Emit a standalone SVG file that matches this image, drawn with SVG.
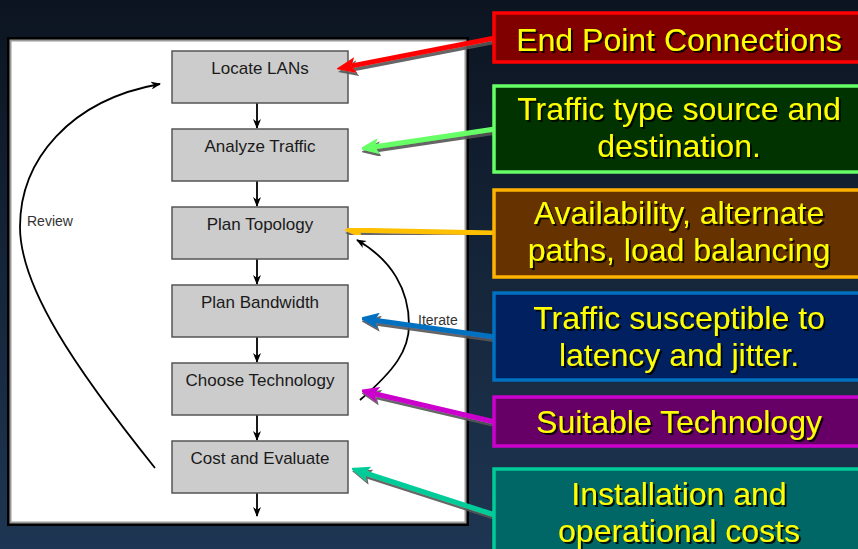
<svg xmlns="http://www.w3.org/2000/svg" width="858" height="549" viewBox="0 0 858 549">
<defs>
<linearGradient id="bg" x1="0" y1="0" x2="0" y2="1">
<stop offset="0" stop-color="#0c1420"/>
<stop offset="1" stop-color="#1e3653"/>
</linearGradient>
<filter id="ts" x="-5%" y="-20%" width="110%" height="140%">
<feDropShadow dx="2" dy="2" stdDeviation="0.6" flood-color="#000" flood-opacity="0.85"/>
</filter>
<filter id="as" x="-10%" y="-50%" width="120%" height="200%">
<feDropShadow dx="2" dy="3" stdDeviation="0.5" flood-color="#555" flood-opacity="0.9"/>
</filter>
<marker id="mk" viewBox="0 0 10 8" refX="9" refY="4" markerWidth="10" markerHeight="8" markerUnits="userSpaceOnUse" orient="auto">
<path d="M0,0 L10,4 L0,8 L3,4 z" fill="#000"/>
</marker>
<marker id="mRed" viewBox="0 0 20 16" refX="4" refY="8" markerWidth="20" markerHeight="16" markerUnits="userSpaceOnUse" orient="auto"><path d="M0,0 L20,8 L0,16 L4,8 z" fill="#ff0000"/></marker>
<marker id="mGreen" viewBox="0 0 20 16" refX="4" refY="8" markerWidth="20" markerHeight="16" markerUnits="userSpaceOnUse" orient="auto"><path d="M0,0 L20,8 L0,16 L4,8 z" fill="#66ff66"/></marker>
<marker id="mOrange" viewBox="0 0 20 16" refX="4" refY="8" markerWidth="20" markerHeight="16" markerUnits="userSpaceOnUse" orient="auto"><path d="M0,0 L20,8 L0,16 L4,8 z" fill="#ffc000"/></marker>
<marker id="mBlue" viewBox="0 0 20 16" refX="4" refY="8" markerWidth="20" markerHeight="16" markerUnits="userSpaceOnUse" orient="auto"><path d="M0,0 L20,8 L0,16 L4,8 z" fill="#0070c0"/></marker>
<marker id="mPurple" viewBox="0 0 20 16" refX="4" refY="8" markerWidth="20" markerHeight="16" markerUnits="userSpaceOnUse" orient="auto"><path d="M0,0 L20,8 L0,16 L4,8 z" fill="#cc00cc"/></marker>
<marker id="mTeal" viewBox="0 0 20 16" refX="4" refY="8" markerWidth="20" markerHeight="16" markerUnits="userSpaceOnUse" orient="auto"><path d="M0,0 L20,8 L0,16 L4,8 z" fill="#00cc99"/></marker>
</defs>
<style>
.step rect { fill: #cccccc; stroke: #555555; stroke-width: 1.5; }
.step text { font-family: "Liberation Sans", Arial, sans-serif; font-size: 17px; fill: #1a1a1a; text-anchor: middle; }
.flow { fill: none; stroke: #000; stroke-width: 1.8; }
.lbl { font-family: "Liberation Sans", Arial, sans-serif; font-size: 14px; fill: #333333; }
.call text { font-family: "Liberation Sans", Arial, sans-serif; font-size: 32px; fill: #ffff00; text-anchor: middle; filter: url(#ts); }
.call rect { stroke-width: 3.5; }
.ptr { fill: none; stroke-width: 5; }
</style>
<rect x="0" y="0" width="858" height="549" fill="url(#bg)"/>
<g id="panel">
<rect x="7" y="37" width="462" height="489" fill="#000"/>
<rect x="10.5" y="40.5" width="455" height="482" fill="#ffffff" stroke="#9a9a9a" stroke-width="2"/>
</g>
<g id="connectors">
<path class="flow" d="M257,103 V128" marker-end="url(#mk)"/>
<path class="flow" d="M257,181 V206" marker-end="url(#mk)"/>
<path class="flow" d="M257,259 V284" marker-end="url(#mk)"/>
<path class="flow" d="M257,337 V362" marker-end="url(#mk)"/>
<path class="flow" d="M257,415 V440" marker-end="url(#mk)"/>
<path class="flow" d="M257,493 V516" marker-end="url(#mk)"/>
<path class="flow" d="M155,468 C75,368 20,287 20,227 C20,160 70,100 160,84" marker-end="url(#mk)"/>
<path class="flow" d="M360,400 C395,370 409,350 409,325 C409,290 392,260 357,240" marker-end="url(#mk)"/>
<text class="lbl" x="27" y="226">Review</text>
<text class="lbl" x="418" y="325">Iterate</text>
</g>
<g id="step1" class="step"><rect x="172" y="51" width="176" height="52"/><text x="260" y="74">Locate LANs</text></g>
<g id="step2" class="step"><rect x="172" y="129" width="176" height="52"/><text x="260" y="152">Analyze Traffic</text></g>
<g id="step3" class="step"><rect x="172" y="207" width="176" height="52"/><text x="260" y="230">Plan Topology</text></g>
<g id="step4" class="step"><rect x="172" y="285" width="176" height="52"/><text x="260" y="308">Plan Bandwidth</text></g>
<g id="step5" class="step"><rect x="172" y="363" width="176" height="52"/><text x="260" y="386">Choose Technology</text></g>
<g id="step6" class="step"><rect x="172" y="441" width="176" height="52"/><text x="260" y="464">Cost and Evaluate</text></g>
<g id="pointers">
<path class="ptr" filter="url(#as)" stroke="#ff0000" d="M495,38 L351.7,65.9" marker-end="url(#mRed)"/>
<path class="ptr" filter="url(#as)" stroke="#66ff66" d="M495,129 L374.8,146.7" marker-end="url(#mGreen)"/>
<path class="ptr" filter="url(#as)" stroke="#ffc000" d="M495,233 L359,230.3" marker-end="url(#mOrange)"/>
<path class="ptr" filter="url(#as)" stroke="#0070c0" d="M495,337 L374.8,320.2" marker-end="url(#mBlue)"/>
<path class="ptr" filter="url(#as)" stroke="#cc00cc" d="M495,422 L374.6,393.7" marker-end="url(#mPurple)"/>
<path class="ptr" filter="url(#as)" stroke="#00cc99" d="M495,515 L365.2,473" marker-end="url(#mTeal)"/>
</g>
<g id="call1" class="call"><rect x="494" y="13" width="380" height="49" fill="#800000" stroke="#ff0000"/><text x="679" y="51">End Point Connections</text></g>
<g id="call2" class="call"><rect x="494" y="86" width="380" height="86" fill="#003300" stroke="#66ff66"/><text x="679" y="120">Traffic type source and</text><text x="679" y="157">destination.</text></g>
<g id="call3" class="call"><rect x="494" y="190" width="380" height="87" fill="#663300" stroke="#ffb300"/><text x="679" y="224">Availability, alternate</text><text x="679" y="261">paths, load balancing</text></g>
<g id="call4" class="call"><rect x="494" y="293" width="380" height="87" fill="#002060" stroke="#0070c0"/><text x="679" y="329">Traffic susceptible to</text><text x="679" y="366">latency and jitter.</text></g>
<g id="call5" class="call"><rect x="494" y="397" width="380" height="49" fill="#660066" stroke="#cc00cc"/><text x="679" y="433">Suitable Technology</text></g>
<g id="call6" class="call"><rect x="494" y="469" width="380" height="100" fill="#006666" stroke="#00cc99"/><text x="679" y="505">Installation and</text><text x="679" y="542">operational costs</text></g>
</svg>
